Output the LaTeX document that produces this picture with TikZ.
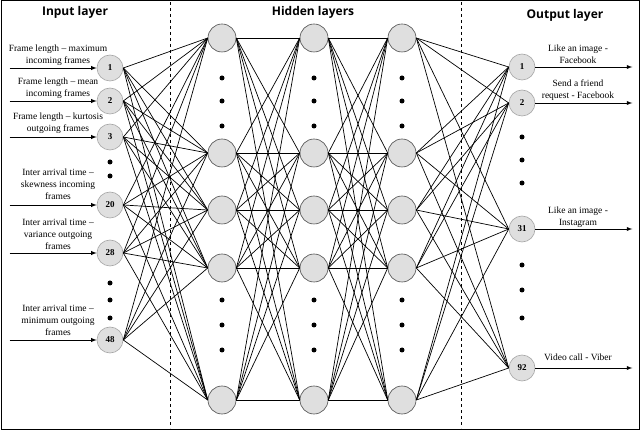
\documentclass[tikz,border=0pt]{standalone}
\usepackage{fontspec}
\setmainfont{Liberation Serif}
\newfontfamily\titlefont{Open Sans}
\begin{document}
\begin{tikzpicture}[x=1pt,y=-1pt,
  neuron/.style={circle,draw=gray!70,fill=gray!25,line width=0.6pt,minimum size=26pt,inner sep=0pt,font=\bfseries\small},
  hid/.style={circle,draw=black!70,fill=gray!25,line width=0.6pt,minimum size=28pt,inner sep=0pt},
  wire/.style={line width=0.7pt},
  lab/.style={font=\fontsize{9.5}{12}\selectfont,align=center},
  ttl/.style={font=\titlefont\bfseries\fontsize{12}{14}\selectfont},
  arr/.style={-latex,line width=0.9pt},
  dot/.style={circle,fill=black,inner sep=0pt,minimum size=5pt}]
\useasboundingbox (0,0) rectangle (640,430);
\draw[line width=1pt] (1,1) rectangle (639,429);
\draw[dashed,line width=1pt] (170,2) -- (170,428);
\draw[dashed,line width=1pt] (461,2) -- (461,428);
\node[ttl] (t1) at (75,12) {Input layer};
\node[ttl] (t2) at (313,12) {Hidden layers};
\node[ttl] (t3) at (565,15) {Output layer};
% input nodes
\foreach \n/\y in {1/68,2/101,3/137,20/205,28/253,48/340}
  \node[neuron] (i\n) at (110,\y) {\n};
% hidden
\foreach \c/\x in {1/222,2/314,3/402}{
  \foreach \r/\y in {1/38,2/153,3/210,4/268,5/400}
    \node[hid] (h\c\r) at (\x,\y) {};
  \foreach \y in {78,101,126,300,325,350}
    \node[dot] (d\c\y) at (\x,\y) {};
}
% output
\foreach \n/\y in {1/67,2/103,31/229,92/368}
  \node[neuron] (o\n) at (522,\y) {\n};
\foreach \y in {137,160,183,265,290,318} \node[dot] (od\y) at (522,\y) {};
\foreach \y in {162,176,283,300,318} \node[dot] (id\y) at (110,\y) {};
% connections
\foreach \n in {1,2,3,20,28,48}
  \foreach \r in {1,...,5}
    \draw[wire] (i\n.east) -- (h1\r.west);
\foreach \a/\b in {1/2,2/3}
  \foreach \r in {1,...,5}
    \foreach \s in {1,...,5}
      \draw[wire] (h\a\r.east) -- (h\b\s.west);
\foreach \r in {1,...,5}
  \foreach \n in {1,2,31,92}
    \draw[wire] (h3\r.east) -- (o\n.west);
% input arrows and labels
\foreach \n in {1,2,3,20,28,48}{
  \coordinate (s\n) at ([xshift=-87pt]i\n.west);
  \draw[arr] (s\n) -- (i\n.west);
}
\node[lab] (l1) at (58,55) {Frame length -- maximum\\incoming frames};
\node[lab] (l2) at (58,88) {Frame length -- mean\\incoming frames};
\node[lab] (l3) at (58,123) {Frame length -- kurtosis\\outgoing frames};
\node[lab] (l20) at (58,184) {Inter arrival time --\\skewness incoming\\frames};
\node[lab] (l28) at (58,234) {Inter arrival time --\\variance outgoing\\frames};
\node[lab] (l48) at (58,320) {Inter arrival time --\\minimum outgoing\\frames};
% output arrows and labels
\foreach \n in {1,2,31,92}{
  \coordinate (e\n) at ([xshift=97pt]o\n.east);
  \draw[arr] (o\n.east) -- (e\n);
}
\node[lab] (m1) at (578,54) {Like an image -\\Facebook};
\node[lab] (m2) at (578,90) {Send a friend\\request - Facebook};
\node[lab] (m31) at (578,217) {Like an image -\\Instagram};
\node[lab] (m92) at (578,357) {Video call - Viber};
\end{tikzpicture}
\end{document}
